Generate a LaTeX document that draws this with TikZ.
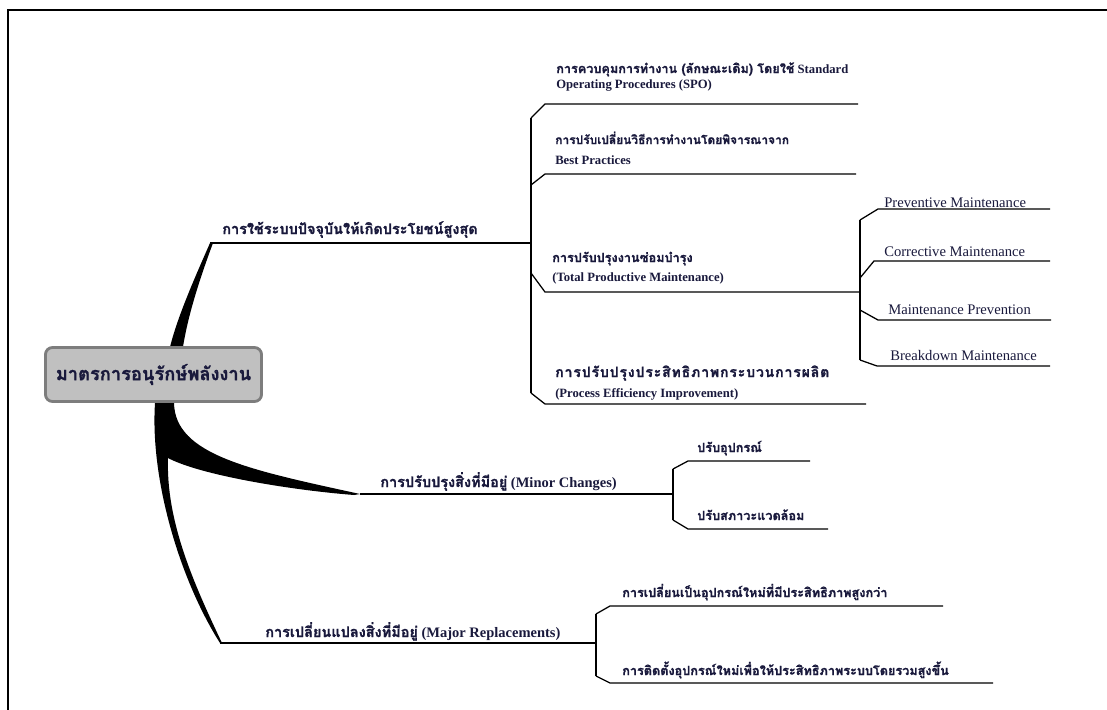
\documentclass[tikz,border=0pt]{standalone}
\usepackage{fontspec}
\setmainfont{Liberation Serif}
\newfontfamily\thaifont[Script=Thai, BoldFeatures={FakeBold=1.2}]{Loma}
\newcommand{\thx}[1]{{\thaifont #1}}
\usetikzlibrary{positioning}
\definecolor{ink}{RGB}{25,25,60}
\definecolor{boxgray}{RGB}{192,192,192}
\definecolor{boxedge}{RGB}{125,125,125}

\begin{document}
\begin{tikzpicture}[x=0.025cm, y=-0.025cm,
    rootbox/.style={draw=boxedge, line width=2pt, fill=boxgray, rounded corners=5pt,
      minimum width=5.4cm, minimum height=1.35cm, text=ink, font=\thaifont\bfseries\fontsize{13}{15}\selectfont},
    mainlbl/.style={anchor=base west, inner sep=0pt, text=ink, font=\bfseries\fontsize{10.3}{12}\selectfont},
    sublbl/.style={anchor=base west, inner sep=0pt, text=ink, font=\bfseries\fontsize{9}{11}\selectfont},
    mlbl/.style={anchor=base west, inner sep=0pt, text=ink, font=\fontsize{10.4}{12}\selectfont},
    twig/.style={line width=0.9pt}]
    \useasboundingbox (0,0) rectangle (1107,710);

    % Frame
    \draw[line width=1.3pt] (8,710) -- (8,10) -- (1107,10);

    % Trunks
    \coordinate (b1) at (210,243);
    \coordinate (b2) at (360,494);
    \coordinate (b3) at (220,643);
    \fill (170,347) .. controls (178,315) and (196,275) .. (b1) -- (213,243)
        .. controls (200,278) and (188,315) .. (183,347) -- cycle;
    \fill (155,403) .. controls (150,480) and (180,580) .. (b3) -- (222,643)
        .. controls (192,580) and (166,520) .. (168,458)
        .. controls (200,475) and (290,490) .. (354,495) -- (b2)
        .. controls (250,470) and (175,455) .. (174,403) -- cycle;

    % Root
    \node[rootbox] (root) at (153.5,374.5) {มาตรการอนุรักษ์พลังงาน};

    % Branch 1
    \coordinate (j1) at (531,243);
    \draw[twig] (b1) -- (j1);
    \node[mainlbl] (use) at (222,234) {\thx{การใช้ระบบปัจจุบันให้เกิดประโยชน์สูงสุด}};
    \coordinate (s1a) at (531,118);
    \coordinate (s1b) at (531,393);
    \draw[twig] (s1a) -- (s1b);

    % Standard Operating Procedures
    \coordinate (spoK) at (545,104);
    \coordinate (spoE) at (858,104);
    \draw[twig] (s1a) -- (spoK) -- (spoE);
    \node[sublbl] (spo) at (556,73) {\thx{การควบคุมการทำงาน (ลักษณะเดิม) โดยใช้} Standard};
    \node[sublbl, below=0.375cm of spo.base west, anchor=base west] (spob) {Operating Procedures (SPO)};

    % Best Practices
    \coordinate (bestS) at (531,185);
    \coordinate (bestK) at (545,174);
    \coordinate (bestE) at (856,174);
    \draw[twig] (bestS) -- (bestK) -- (bestE);
    \node[sublbl] (best) at (555,144) {\thx{\fontsize{8.5}{11}\selectfont การปรับเปลี่ยนวิธีการทำงานโดยพิจารณาจาก}};
    \node[sublbl, below=0.5cm of best.base west, anchor=base west] (bestb) {Best Practices};

    % Total Productive Maintenance
    \coordinate (tpmS) at (531,273);
    \coordinate (tpmK) at (545,292);
    \coordinate (tpmE) at (860,292);
    \draw[twig] (tpmS) -- (tpmK) -- (tpmE);
    \node[sublbl] (tpm) at (552,262) {\thx{การปรับปรุงงานซ่อมบำรุง}};
    \node[sublbl, below=0.475cm of tpm.base west, anchor=base west] (tpmb) {(Total Productive Maintenance)};

    % Process Efficiency Improvement
    \coordinate (peiK) at (545,404);
    \coordinate (peiE) at (866,404);
    \draw[twig] (s1b) -- (peiK) -- (peiE);
    \node[sublbl] (pei) at (555,377) {\thaifont\addfontfeature{LetterSpace=6}\fontsize{10}{12}\selectfont การปรับปรุงประสิทธิภาพกระบวนการผลิต};
    \node[sublbl, below=0.5cm of pei.base west, anchor=base west] (peib) {(Process Efficiency Improvement)};

    % Maintenance types
    \coordinate (s2a) at (860,220);
    \coordinate (s2b) at (860,360);
    \draw[twig] (s2a) -- (s2b);
    \coordinate (prevK) at (878,209);
    \coordinate (prevE) at (1050,209);
    \draw[twig] (s2a) -- (prevK) -- (prevE);
    \node[mlbl] (prev) at (884,207) {Preventive Maintenance};
    \coordinate (corrS) at (860,278);
    \coordinate (corrK) at (874,261);
    \coordinate (corrE) at (1050,261);
    \draw[twig] (corrS) -- (corrK) -- (corrE);
    \node[mlbl] (corr) at (884,256) {Corrective Maintenance};
    \coordinate (mpS) at (860,310);
    \coordinate (mpK) at (878,320);
    \coordinate (mpE) at (1051,320);
    \draw[twig] (mpS) -- (mpK) -- (mpE);
    \node[mlbl] (mprev) at (888,314) {Maintenance Prevention};
    \coordinate (brkK) at (877,366);
    \coordinate (brkE) at (1050,366);
    \draw[twig] (s2b) -- (brkK) -- (brkE);
    \node[mlbl] (brk) at (890,360) {Breakdown Maintenance};

    % Branch 2
    \coordinate (j2) at (673,494);
    \draw[twig] (b2) -- (j2);
    \node[mainlbl] (minor) at (380,487) {\thx{การปรับปรุงสิ่งที่มีอยู่} (Minor Changes)};
    \coordinate (s3a) at (673,469);
    \coordinate (s3b) at (673,520);
    \draw[twig] (s3a) -- (s3b);
    \coordinate (equipK) at (688,461);
    \coordinate (equipE) at (810,461);
    \draw[twig] (s3a) -- (equipK) -- (equipE);
    \node[sublbl] (equip) at (697,452) {\thx{ปรับอุปกรณ์}};
    \coordinate (envK) at (688,529);
    \coordinate (envE) at (828,529);
    \draw[twig] (s3b) -- (envK) -- (envE);
    \node[sublbl] (envir) at (697,520) {\thx{ปรับสภาวะแวดล้อม}};

    % Branch 3
    \coordinate (j3) at (596,643);
    \draw[twig] (b3) -- (j3);
    \node[mainlbl] (major) at (265,637) {\thx{การเปลี่ยนแปลงสิ่งที่มีอยู่} (Major Replacements)};
    \coordinate (s4a) at (596,614);
    \coordinate (s4b) at (596,676);
    \draw[twig] (s4a) -- (s4b);
    \coordinate (newK) at (610,606);
    \coordinate (newE) at (943,606);
    \draw[twig] (s4a) -- (newK) -- (newE);
    \node[sublbl] (newequip) at (622,597) {\thx{การเปลี่ยนเป็นอุปกรณ์ใหม่ที่มีประสิทธิภาพสูงกว่า}};
    \coordinate (instK) at (610,683);
    \coordinate (instE) at (993,683);
    \draw[twig] (s4b) -- (instK) -- (instE);
    \node[sublbl] (install) at (622,675) {\thx{การติดตั้งอุปกรณ์ใหม่เพื่อให้ประสิทธิภาพระบบโดยรวมสูงขึ้น}};
\end{tikzpicture}
\end{document}
